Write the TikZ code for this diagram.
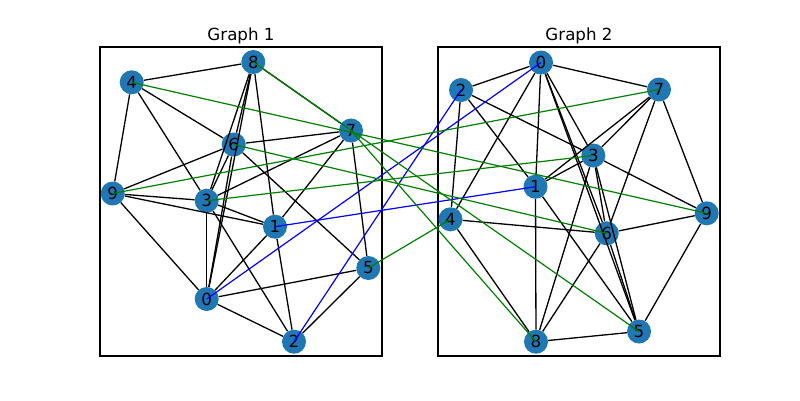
\documentclass[tikz,border=0pt]{standalone}
\usepackage{fontspec}
\setmainfont{DejaVu Sans}
\definecolor{nodeblue}{HTML}{1F77B4}
\definecolor{mplgreen}{HTML}{008000}
\definecolor{mplblue}{HTML}{0000FF}
\begin{document}
\begin{tikzpicture}[x=1pt,y=-1pt,
  vtx/.style={circle,fill=nodeblue,draw=none,minimum size=24pt,inner sep=0pt,
              font=\fontsize{16.67}{18}\selectfont},
  edge/.style={black,line width=1.3pt},
  gline/.style={mplgreen,line width=1.2pt},
  bline/.style={mplblue,line width=1.2pt},
  frame/.style={black,line width=1.1pt},
  ttl/.style={anchor=base,font=\fontsize{16.67}{18}\selectfont,inner sep=0pt}]
\useasboundingbox (0,0) rectangle (800,400);
\fill[white] (0,0) rectangle (800,400);
% frames and titles
\draw[frame] (100,47) rectangle (382,356);
\draw[frame] (438,47) rectangle (720,356);
\node[ttl] (t1) at (241,40) {Graph 1};
\node[ttl] (t2) at (579,40) {Graph 2};
% Graph 1 nodes
\node[vtx] (a0) at (206.7,299) {0};
\node[vtx] (a1) at (275,226.7) {1};
\node[vtx] (a2) at (294,341.7) {2};
\node[vtx] (a3) at (206.7,200.7) {3};
\node[vtx] (a4) at (131.7,82.3) {4};
\node[vtx] (a5) at (368.3,268) {5};
\node[vtx] (a6) at (233.7,144.5) {6};
\node[vtx] (a7) at (351,130.5) {7};
\node[vtx] (a8) at (253.3,62) {8};
\node[vtx] (a9) at (112.7,193.5) {9};
% Graph 2 nodes
\node[vtx] (b0) at (541,62.5) {0};
\node[vtx] (b1) at (535.5,186.7) {1};
\node[vtx] (b2) at (461,90) {2};
\node[vtx] (b3) at (593.3,155.5) {3};
\node[vtx] (b4) at (450.5,219.3) {4};
\node[vtx] (b5) at (639,331.5) {5};
\node[vtx] (b6) at (606.7,233.3) {6};
\node[vtx] (b7) at (659,89.5) {7};
\node[vtx] (b8) at (536,341.7) {8};
\node[vtx] (b9) at (706.7,213.3) {9};
% Graph 1 edges
\foreach \u/\v in {4/8,4/9,4/6,4/3,9/6,9/3,9/1,9/0,6/7,6/5,6/3,3/7,3/1,3/2,3/0,
                   7/1,7/5,1/0,1/2,0/5,0/2,2/5,8/1,8/3,8/6,8/0,6/0,8/7}
  \draw[edge] (a\u) -- (a\v);
% Graph 2 edges
\foreach \u/\v in {9/5,9/7,9/6,9/3,7/6,7/3,7/1,7/0,6/8,6/4,6/3,3/8,3/1,3/2,3/0,
                   8/1,8/4,1/0,1/2,0/4,0/2,2/4,5/1,5/3,5/6,5/0,6/0,5/8}
  \draw[edge] (b\u) -- (b\v);
% matching lines
\draw[bline] (a0.center) -- (b0.center);
\draw[bline] (a1.center) -- (b1.center);
\draw[bline] (a2.center) -- (b2.center);
\draw[gline] (a3.center) -- (b3.center);
\draw[gline] (a4.center) -- (b9.center);
\draw[gline] (a5.center) -- (b4.center);
\draw[gline] (a6.center) -- (b6.center);
\draw[gline] (a7.center) -- (b8.center);
\draw[gline] (a8.center) -- (b5.center);
\draw[gline] (a9.center) -- (b7.center);
\end{tikzpicture}
\end{document}
